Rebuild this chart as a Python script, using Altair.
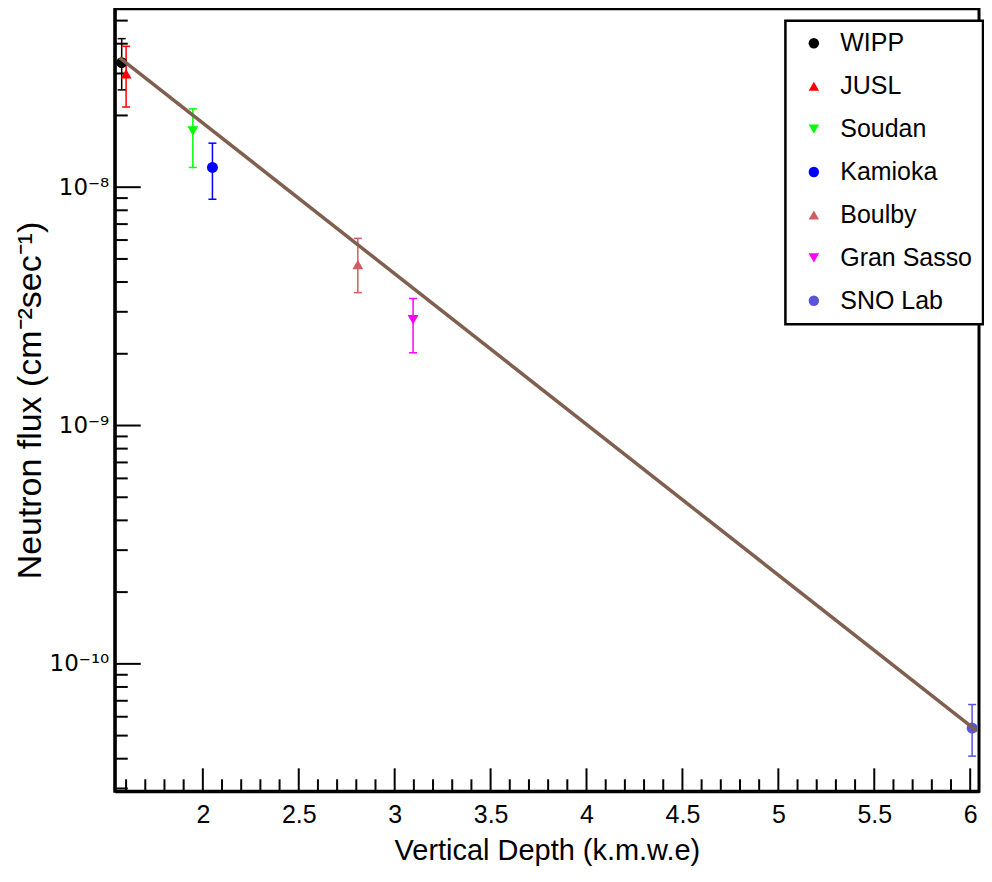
import math
import altair as alt
import pandas as pd

# ---- data ----
sites = ["WIPP", "JUSL", "Soudan", "Kamioka", "Boulby", "Gran Sasso", "SNO Lab"]
depth = [1.577, 1.600, 1.948, 2.050, 2.808, 3.096, 6.010]
flux = [3.33e-8, 2.99e-8, 1.72e-8, 1.21e-8, 4.74e-9, 2.78e-9, 5.38e-11]
flux_hi = [4.20e-8, 3.90e-8, 2.13e-8, 1.53e-8, 6.10e-9, 3.41e-9, 6.75e-11]
flux_lo = [2.56e-8, 2.17e-8, 1.21e-8, 8.90e-9, 3.61e-9, 2.02e-9, 4.10e-11]
colors = ["#000000", "#ff0000", "#00ff00", "#0000ff", "#cf5e61", "#ff00ff", "#5954d9"]
shapes = ["circle", "triangle-up", "triangle-down", "circle", "triangle-up", "triangle-down", "circle"]

fit_depth = [1.567, 6.036]
fit_flux = [3.49e-8, 5.22e-11]

x_major = [2.0, 2.5, 3.0, 3.5, 4.0, 4.5, 5.0, 5.5, 6.0]
x_minor = [1.6, 1.7, 1.8, 1.9, 2.1, 2.2, 2.3, 2.4, 2.6, 2.7, 2.8, 2.9,
           3.1, 3.2, 3.3, 3.4, 3.6, 3.7, 3.8, 3.9, 4.1, 4.2, 4.3, 4.4,
           4.6, 4.7, 4.8, 4.9, 5.1, 5.2, 5.3, 5.4, 5.6, 5.7, 5.8, 5.9]
y_major = [1e-10, 1e-9, 1e-8]
y_major_labels = ["10⁻¹⁰", "10⁻⁹", "10⁻⁸"]
y_minor = [3e-11, 4e-11, 5e-11, 6e-11, 7e-11, 8e-11, 9e-11,
           2e-10, 3e-10, 4e-10, 5e-10, 6e-10, 7e-10, 8e-10, 9e-10,
           2e-9, 3e-9, 4e-9, 5e-9, 6e-9, 7e-9, 8e-9, 9e-9,
           2e-8, 3e-8, 4e-8, 5e-8]

x_domain = [1.541, 6.046]
y_domain = [2.92e-11, 5.6e-8]

FONT = "Liberation Sans"

pts = pd.DataFrame({"site": sites, "depth": depth, "flux": flux,
                    "hi": flux_hi, "lo": flux_lo, "col": colors})
fit = pd.DataFrame({"depth": fit_depth, "flux": fit_flux})

xs = alt.Scale(domain=x_domain, nice=False, zero=False)
ys = alt.Scale(type="log", domain=y_domain, nice=False)
cs = alt.Scale(domain=sites, range=colors)
ss = alt.Scale(domain=sites, range=shapes)

parts = [f"abs(log(datum.value)/LN10 - ({round(math.log10(v))})) < 0.01 ? '{t}'"
         for v, t in zip(y_major, y_major_labels)]
y_label_expr = " : ".join(parts) + " : ''"

x_axis = alt.Axis(orient="bottom", values=x_major, format="~g", title="Vertical Depth (k.m.w.e)",
                  titleFontSize=29, labelFontSize=25, labelPadding=11, titlePadding=9,
                  ticks=False, grid=False, domainColor="black", domainWidth=3,
                  labelFont=FONT, titleFont=FONT, titleFontWeight="normal",
                  labelColor="black", titleColor="black")
y_axis = alt.Axis(orient="left", values=y_major, labelExpr=y_label_expr,
                  title="Neutron flux (cm⁻²sec⁻¹)",
                  titleFontSize=34, labelFontSize=23, labelPadding=6, titlePadding=2,
                  ticks=False, grid=False, domainColor="black", domainWidth=3,
                  labelFont="DejaVu Sans", titleFont=FONT, titleFontWeight="normal",
                  labelColor="black", titleColor="black")


def X(field, axis=x_axis):
    return alt.X(field, scale=xs, axis=axis)


def Y(field, axis=y_axis):
    return alt.Y(field, scale=ys, axis=axis)


# inward ticks (own layer, no axes)
ty_major = alt.Chart(pd.DataFrame({"tv": y_major})).mark_rule(color="black", strokeWidth=2).encode(
    y=Y("tv:Q", None), x=alt.value(0), x2=alt.value(26))
ty_minor = alt.Chart(pd.DataFrame({"tv": y_minor})).mark_rule(color="black", strokeWidth=2).encode(
    y=Y("tv:Q", None), x=alt.value(0), x2=alt.value(13))
tx_major = alt.Chart(pd.DataFrame({"tx": x_major})).mark_rule(color="black", strokeWidth=2).encode(
    x=X("tx:Q", None), y=alt.value("height"), y2=alt.value({"expr": "height - 23"}))
tx_minor = alt.Chart(pd.DataFrame({"tx": x_minor})).mark_rule(color="black", strokeWidth=2).encode(
    x=X("tx:Q", None), y=alt.value("height"), y2=alt.value({"expr": "height - 12"}))
ticks = alt.layer(ty_major, ty_minor, tx_major, tx_minor)

bars = alt.Chart(pts).mark_rule(strokeWidth=1.5).encode(
    x=X("depth:Q"), y=Y("lo:Q"), y2="hi:Q",
    color=alt.Color("col:N", scale=None))
cap_hi = alt.Chart(pts).mark_tick(orient="horizontal", size=8, thickness=1.5, opacity=1).encode(
    x=X("depth:Q"), y=Y("hi:Q"),
    color=alt.Color("col:N", scale=None))
cap_lo = alt.Chart(pts).mark_tick(orient="horizontal", size=8, thickness=1.5, opacity=1).encode(
    x=X("depth:Q"), y=Y("lo:Q"),
    color=alt.Color("col:N", scale=None))

legend = alt.Legend(title=None, orient="none", legendX=672, legendY=12,
                    strokeColor="black", fillColor="white", padding=10,
                    labelFontSize=25, labelFont=FONT, labelColor="black",
                    symbolSize=110, rowPadding=17, labelOffset=14, symbolOffset=6)
points = alt.Chart(pts).mark_point(filled=True, size=120, opacity=1).encode(
    x=X("depth:Q"), y=Y("flux:Q"),
    color=alt.Color("site:N", scale=cs, legend=legend),
    shape=alt.Shape("site:N", scale=ss, legend=legend))

line = alt.Chart(fit).mark_line(color="#7f5f4f", strokeWidth=3.5).encode(
    x=X("depth:Q"), y=Y("flux:Q"))

main = alt.layer(bars, cap_hi, cap_lo, points, line)

chart = alt.layer(ticks, main).resolve_axis(x="independent", y="independent").properties(
    width=978, height=858,
    autosize=alt.AutoSizeParams(type="fit", contains="padding"),
    padding={"left": 5, "top": 0, "right": 0, "bottom": 0},
).configure_view(stroke="black", strokeWidth=3).configure_legend(strokeWidth=2.5)

chart.save("out.html", embed_options={"renderer": "svg", "actions": False})
